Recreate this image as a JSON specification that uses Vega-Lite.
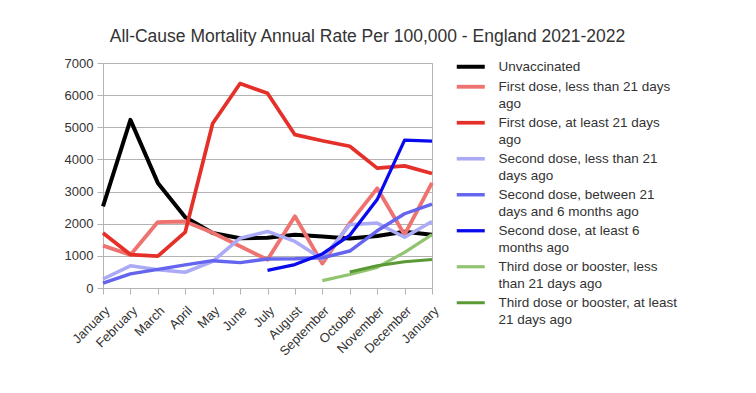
{
  "$schema": "https://vega.github.io/schema/vega-lite/v6.json",
  "width": 329,
  "height": 225,
  "autosize": {"type": "none"},
  "padding": {"left": 103, "top": 63, "right": 324, "bottom": 105},
  "background": "white",
  "title": {
    "text": "All-Cause Mortality Annual Rate Per 100,000 - England 2021-2022",
    "font": "Liberation Sans",
    "fontSize": 17.5,
    "fontWeight": "normal",
    "color": "#333333",
    "anchor": "middle",
    "dx": 100,
    "offset": 12
  },
  "data": {
    "values": [
      {"m": 0, "s": "Unvaccinated", "v": 2540},
      {"m": 1, "s": "Unvaccinated", "v": 5230},
      {"m": 2, "s": "Unvaccinated", "v": 3270},
      {"m": 3, "s": "Unvaccinated", "v": 2200},
      {"m": 4, "s": "Unvaccinated", "v": 1710},
      {"m": 5, "s": "Unvaccinated", "v": 1550},
      {"m": 6, "s": "Unvaccinated", "v": 1560},
      {"m": 7, "s": "Unvaccinated", "v": 1660},
      {"m": 8, "s": "Unvaccinated", "v": 1600},
      {"m": 9, "s": "Unvaccinated", "v": 1540},
      {"m": 10, "s": "Unvaccinated", "v": 1620},
      {"m": 11, "s": "Unvaccinated", "v": 1750},
      {"m": 12, "s": "Unvaccinated", "v": 1660},

      {"m": 0, "s": "First dose, less than 21 days ago", "v": 1320},
      {"m": 1, "s": "First dose, less than 21 days ago", "v": 1030},
      {"m": 2, "s": "First dose, less than 21 days ago", "v": 2050},
      {"m": 3, "s": "First dose, less than 21 days ago", "v": 2070},
      {"m": 4, "s": "First dose, less than 21 days ago", "v": 1720},
      {"m": 5, "s": "First dose, less than 21 days ago", "v": 1300},
      {"m": 6, "s": "First dose, less than 21 days ago", "v": 880},
      {"m": 7, "s": "First dose, less than 21 days ago", "v": 2230},
      {"m": 8, "s": "First dose, less than 21 days ago", "v": 760},
      {"m": 9, "s": "First dose, less than 21 days ago", "v": 2020},
      {"m": 10, "s": "First dose, less than 21 days ago", "v": 3100},
      {"m": 11, "s": "First dose, less than 21 days ago", "v": 1660},
      {"m": 12, "s": "First dose, less than 21 days ago", "v": 3270},

      {"m": 0, "s": "First dose, at least 21 days ago", "v": 1710},
      {"m": 1, "s": "First dose, at least 21 days ago", "v": 1040},
      {"m": 2, "s": "First dose, at least 21 days ago", "v": 990},
      {"m": 3, "s": "First dose, at least 21 days ago", "v": 1740},
      {"m": 4, "s": "First dose, at least 21 days ago", "v": 5120},
      {"m": 5, "s": "First dose, at least 21 days ago", "v": 6360},
      {"m": 6, "s": "First dose, at least 21 days ago", "v": 6060},
      {"m": 7, "s": "First dose, at least 21 days ago", "v": 4770},
      {"m": 8, "s": "First dose, at least 21 days ago", "v": 4580},
      {"m": 9, "s": "First dose, at least 21 days ago", "v": 4410},
      {"m": 10, "s": "First dose, at least 21 days ago", "v": 3730},
      {"m": 11, "s": "First dose, at least 21 days ago", "v": 3800},
      {"m": 12, "s": "First dose, at least 21 days ago", "v": 3560},

      {"m": 0, "s": "Second dose, less than 21 days ago", "v": 280},
      {"m": 1, "s": "Second dose, less than 21 days ago", "v": 690},
      {"m": 2, "s": "Second dose, less than 21 days ago", "v": 570},
      {"m": 3, "s": "Second dose, less than 21 days ago", "v": 490},
      {"m": 4, "s": "Second dose, less than 21 days ago", "v": 830},
      {"m": 5, "s": "Second dose, less than 21 days ago", "v": 1550},
      {"m": 6, "s": "Second dose, less than 21 days ago", "v": 1760},
      {"m": 7, "s": "Second dose, less than 21 days ago", "v": 1450},
      {"m": 8, "s": "Second dose, less than 21 days ago", "v": 900},
      {"m": 9, "s": "Second dose, less than 21 days ago", "v": 1970},
      {"m": 10, "s": "Second dose, less than 21 days ago", "v": 2020},
      {"m": 11, "s": "Second dose, less than 21 days ago", "v": 1580},
      {"m": 12, "s": "Second dose, less than 21 days ago", "v": 2070},

      {"m": 0, "s": "Second dose, between 21 days and 6 months ago", "v": 150},
      {"m": 1, "s": "Second dose, between 21 days and 6 months ago", "v": 440},
      {"m": 2, "s": "Second dose, between 21 days and 6 months ago", "v": 580},
      {"m": 3, "s": "Second dose, between 21 days and 6 months ago", "v": 720},
      {"m": 4, "s": "Second dose, between 21 days and 6 months ago", "v": 850},
      {"m": 5, "s": "Second dose, between 21 days and 6 months ago", "v": 790},
      {"m": 6, "s": "Second dose, between 21 days and 6 months ago", "v": 900},
      {"m": 7, "s": "Second dose, between 21 days and 6 months ago", "v": 910},
      {"m": 8, "s": "Second dose, between 21 days and 6 months ago", "v": 940},
      {"m": 9, "s": "Second dose, between 21 days and 6 months ago", "v": 1150},
      {"m": 10, "s": "Second dose, between 21 days and 6 months ago", "v": 1780},
      {"m": 11, "s": "Second dose, between 21 days and 6 months ago", "v": 2310},
      {"m": 12, "s": "Second dose, between 21 days and 6 months ago", "v": 2610},

      {"m": 6, "s": "Second dose, at least 6 months ago", "v": 550},
      {"m": 7, "s": "Second dose, at least 6 months ago", "v": 730},
      {"m": 8, "s": "Second dose, at least 6 months ago", "v": 1060},
      {"m": 9, "s": "Second dose, at least 6 months ago", "v": 1640},
      {"m": 10, "s": "Second dose, at least 6 months ago", "v": 2750},
      {"m": 11, "s": "Second dose, at least 6 months ago", "v": 4600},
      {"m": 12, "s": "Second dose, at least 6 months ago", "v": 4570},

      {"m": 8, "s": "Third dose or booster, less than 21 days ago", "v": 230},
      {"m": 9, "s": "Third dose or booster, less than 21 days ago", "v": 420},
      {"m": 10, "s": "Third dose or booster, less than 21 days ago", "v": 640},
      {"m": 11, "s": "Third dose or booster, less than 21 days ago", "v": 1110},
      {"m": 12, "s": "Third dose or booster, less than 21 days ago", "v": 1660},

      {"m": 9, "s": "Third dose or booster, at least 21 days ago", "v": 500},
      {"m": 10, "s": "Third dose or booster, at least 21 days ago", "v": 690},
      {"m": 11, "s": "Third dose or booster, at least 21 days ago", "v": 820},
      {"m": 12, "s": "Third dose or booster, at least 21 days ago", "v": 890}
    ]
  },
  "mark": {"type": "line", "strokeJoin": "round", "strokeCap": "butt"},
  "encoding": {
    "x": {
      "field": "m",
      "type": "ordinal",
      "scale": {"type": "point", "padding": 0},
      "axis": {
        "title": null,
        "labelAngle": -45,
        "labelExpr": "['January','February','March','April','May','June','July','August','September','October','November','December','January'][datum.value]",
        "labelFont": "Liberation Sans",
        "labelFontSize": 13,
        "labelColor": "#333333",
        "labelPadding": 10,
        "tickSize": 6,
        "tickColor": "#b3b3b3",
        "domainColor": "#b3b3b3",
        "grid": false
      }
    },
    "y": {
      "field": "v",
      "type": "quantitative",
      "scale": {"domain": [0, 7000], "nice": false, "zero": true},
      "axis": {
        "title": null,
        "values": [0, 1000, 2000, 3000, 4000, 5000, 6000, 7000],
        "format": "d",
        "labelFont": "Liberation Sans",
        "labelFontSize": 13,
        "labelColor": "#333333",
        "labelPadding": 4,
        "tickSize": 6,
        "tickColor": "#b3b3b3",
        "domainColor": "#b3b3b3",
        "gridColor": "#b3b3b3",
        "grid": true
      }
    },
    "color": {
      "field": "s",
      "type": "nominal",
      "scale": {
        "domain": [
          "Unvaccinated",
          "First dose, less than 21 days ago",
          "First dose, at least 21 days ago",
          "Second dose, less than 21 days ago",
          "Second dose, between 21 days and 6 months ago",
          "Second dose, at least 6 months ago",
          "Third dose or booster, less than 21 days ago",
          "Third dose or booster, at least 21 days ago"
        ],
        "range": ["#000000", "#ee7370", "#e5302a", "#aaaaf6", "#6464ee", "#0a0aee", "#90c46e", "#5a9a34"]
      },
      "legend": {
        "title": null,
        "orient": "none",
        "legendX": 354,
        "legendY": -3,
        "padding": 0,
        "symbolType": "M-3.5,0H3.5",
        "symbolSize": 64,
        "symbolOffset": 7,
        "labelOffset": 21,
        "rowPadding": 4,
        "labelFont": "Liberation Sans",
        "labelFontSize": 13.5,
        "labelColor": "#333333",
        "labelBaseline": "middle",
        "labelLimit": 300,
        "labelExpr": "datum.label == 'First dose, less than 21 days ago' ? ['First dose, less than 21 days', 'ago'] : datum.label == 'First dose, at least 21 days ago' ? ['First dose, at least 21 days', 'ago'] : datum.label == 'Second dose, less than 21 days ago' ? ['Second dose, less than 21', 'days ago'] : datum.label == 'Second dose, between 21 days and 6 months ago' ? ['Second dose, between 21', 'days and 6 months ago'] : datum.label == 'Second dose, at least 6 months ago' ? ['Second dose, at least 6', 'months ago'] : datum.label == 'Third dose or booster, less than 21 days ago' ? ['Third dose or booster, less', 'than 21 days ago'] : datum.label == 'Third dose or booster, at least 21 days ago' ? ['Third dose or booster, at least', '21 days ago'] : datum.label"
      }
    },
    "strokeWidth": {
      "field": "s",
      "type": "ordinal",
      "scale": {
        "domain": [
          "Unvaccinated",
          "First dose, less than 21 days ago",
          "First dose, at least 21 days ago",
          "Second dose, less than 21 days ago",
          "Second dose, between 21 days and 6 months ago",
          "Second dose, at least 6 months ago",
          "Third dose or booster, less than 21 days ago",
          "Third dose or booster, at least 21 days ago"
        ],
        "range": [4, 3, 4, 2, 3, 4.5, 2.5, 4.5]
      },
      "legend": null
    }
  },
  "config": {
    "view": {"stroke": "#b3b3b3", "strokeWidth": 1},
    "style": {"guide-label": {"lineHeight": 17}}
  }
}
